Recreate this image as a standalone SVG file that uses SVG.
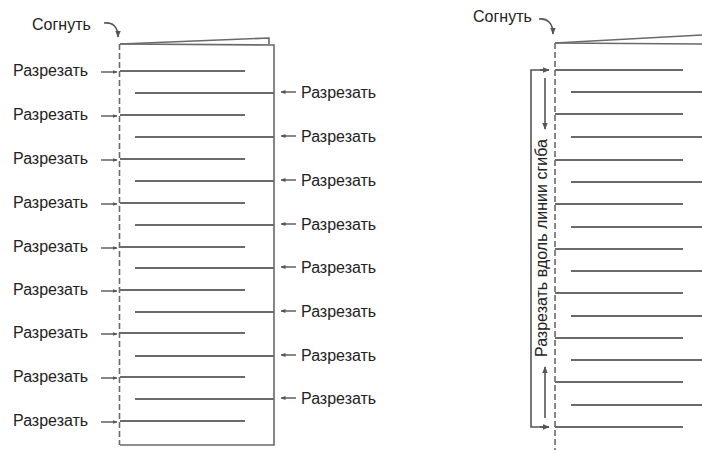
<svg xmlns="http://www.w3.org/2000/svg" width="702" height="450" viewBox="0 0 702 450">
<defs>
<marker id="ah" viewBox="0 0 10 10" refX="9" refY="5" markerWidth="5" markerHeight="5" orient="auto" markerUnits="userSpaceOnUse">
<path d="M0,1 L10,5 L0,9 Z" fill="#555"/>
</marker>
<marker id="ahb" viewBox="0 0 10 10" refX="9" refY="5" markerWidth="7" markerHeight="7" orient="auto" markerUnits="userSpaceOnUse">
<path d="M0,1 L10,5 L0,9 Z" fill="#555"/>
</marker>
</defs>
<style>
text{font-family:"Liberation Sans",Arial,sans-serif;font-size:16px;fill:#222}
.e{stroke:#6a6a6a;stroke-width:1.6;fill:none}
.c{stroke:#6a6a6a;stroke-width:2;fill:none}
.f{stroke:#6a6a6a;stroke-width:1.6;fill:none;stroke-dasharray:6,3}
.a{stroke:#555;stroke-width:1.4;fill:none;marker-end:url(#ah)}
.ab{stroke:#555;stroke-width:1.6;fill:none;marker-end:url(#ahb)}
</style>

<g id="left-sheet">
<path class="e" d="M120,44 L269,38 L269,44"/>
<path class="e" d="M120,44 L274,45 L274,445 L120,445"/>
<line class="f" x1="119.5" y1="44" x2="119.5" y2="445"/>
</g>
<g id="left-fold">
<text x="32" y="30">Согнуть</text>
<path class="ab" d="M104,23 C112,22 118,26 118,37"/>
</g>
<g id="left-cuts">
<line class="c" x1="120" y1="71" x2="245" y2="71"/>
<line class="c" x1="120" y1="115" x2="245" y2="115"/>
<line class="c" x1="120" y1="159" x2="245" y2="159"/>
<line class="c" x1="120" y1="203" x2="245" y2="203"/>
<line class="c" x1="120" y1="247" x2="245" y2="247"/>
<line class="c" x1="120" y1="290" x2="245" y2="290"/>
<line class="c" x1="120" y1="333" x2="245" y2="333"/>
<line class="c" x1="120" y1="377" x2="245" y2="377"/>
<line class="c" x1="120" y1="421" x2="245" y2="421"/>
<line class="c" x1="135" y1="93" x2="274" y2="93"/>
<line class="c" x1="135" y1="137" x2="274" y2="137"/>
<line class="c" x1="135" y1="181" x2="274" y2="181"/>
<line class="c" x1="135" y1="225" x2="274" y2="225"/>
<line class="c" x1="135" y1="268" x2="274" y2="268"/>
<line class="c" x1="135" y1="312" x2="274" y2="312"/>
<line class="c" x1="135" y1="356" x2="274" y2="356"/>
<line class="c" x1="135" y1="399" x2="274" y2="399"/>
</g>
<g id="left-labels">
<text x="13" y="76">Разрезать</text>
<text x="13" y="120">Разрезать</text>
<text x="13" y="164">Разрезать</text>
<text x="13" y="208">Разрезать</text>
<text x="13" y="252">Разрезать</text>
<text x="13" y="295">Разрезать</text>
<text x="13" y="338">Разрезать</text>
<text x="13" y="382">Разрезать</text>
<text x="13" y="426">Разрезать</text>
<text x="301" y="98">Разрезать</text>
<text x="301" y="142">Разрезать</text>
<text x="301" y="186">Разрезать</text>
<text x="301" y="230">Разрезать</text>
<text x="301" y="273">Разрезать</text>
<text x="301" y="317">Разрезать</text>
<text x="301" y="361">Разрезать</text>
<text x="301" y="404">Разрезать</text>
</g>
<g id="connectors">
<line class="a" x1="101" y1="72" x2="117" y2="72"/>
<line class="a" x1="101" y1="116" x2="117" y2="116"/>
<line class="a" x1="101" y1="160" x2="117" y2="160"/>
<line class="a" x1="101" y1="204" x2="117" y2="204"/>
<line class="a" x1="101" y1="248" x2="117" y2="248"/>
<line class="a" x1="101" y1="291" x2="117" y2="291"/>
<line class="a" x1="101" y1="334" x2="117" y2="334"/>
<line class="a" x1="101" y1="378" x2="117" y2="378"/>
<line class="a" x1="101" y1="422" x2="117" y2="422"/>
<line class="a" x1="296" y1="92" x2="281" y2="92"/>
<line class="a" x1="296" y1="136" x2="281" y2="136"/>
<line class="a" x1="296" y1="180" x2="281" y2="180"/>
<line class="a" x1="296" y1="224" x2="281" y2="224"/>
<line class="a" x1="296" y1="267" x2="281" y2="267"/>
<line class="a" x1="296" y1="311" x2="281" y2="311"/>
<line class="a" x1="296" y1="355" x2="281" y2="355"/>
<line class="a" x1="296" y1="398" x2="281" y2="398"/>
<path class="ab" d="M539,19 C547,18 553,23 553,34"/>
<path class="ab" d="M549,70 L531,70 L531,427 L549,427" style="marker-end:none"/>
<line class="ab" x1="540" y1="70" x2="549" y2="70"/>
<line class="ab" x1="540" y1="427" x2="549" y2="427"/>
<line class="ab" x1="545" y1="78" x2="545" y2="129"/>
<line class="ab" x1="545" y1="418" x2="545" y2="367"/>
</g>

<g id="right-sheet">
<path class="e" d="M555,43 L702,35"/>
<path class="e" d="M555,43 L702,44"/>
<line class="f" x1="555" y1="43" x2="555" y2="450"/>
</g>
<g id="right-fold">
<text x="473" y="22">Согнуть</text>
</g>
<g id="right-cuts">
<line class="c" x1="555" y1="70" x2="683" y2="70"/>
<line class="c" x1="555" y1="114" x2="683" y2="114"/>
<line class="c" x1="555" y1="160" x2="683" y2="160"/>
<line class="c" x1="555" y1="204" x2="683" y2="204"/>
<line class="c" x1="555" y1="249" x2="683" y2="249"/>
<line class="c" x1="555" y1="293" x2="683" y2="293"/>
<line class="c" x1="555" y1="338" x2="683" y2="338"/>
<line class="c" x1="555" y1="382" x2="683" y2="382"/>
<line class="c" x1="555" y1="427" x2="683" y2="427"/>
<line class="c" x1="571" y1="92" x2="702" y2="92"/>
<line class="c" x1="571" y1="137" x2="702" y2="137"/>
<line class="c" x1="571" y1="182" x2="702" y2="182"/>
<line class="c" x1="571" y1="227" x2="702" y2="227"/>
<line class="c" x1="571" y1="271" x2="702" y2="271"/>
<line class="c" x1="571" y1="316" x2="702" y2="316"/>
<line class="c" x1="571" y1="360" x2="702" y2="360"/>
<line class="c" x1="571" y1="405" x2="702" y2="405"/>
</g>
<g id="right-label">
<text transform="translate(547,357) rotate(-90)">Разрезать вдоль линии сгиба</text>
</g>
</svg>
